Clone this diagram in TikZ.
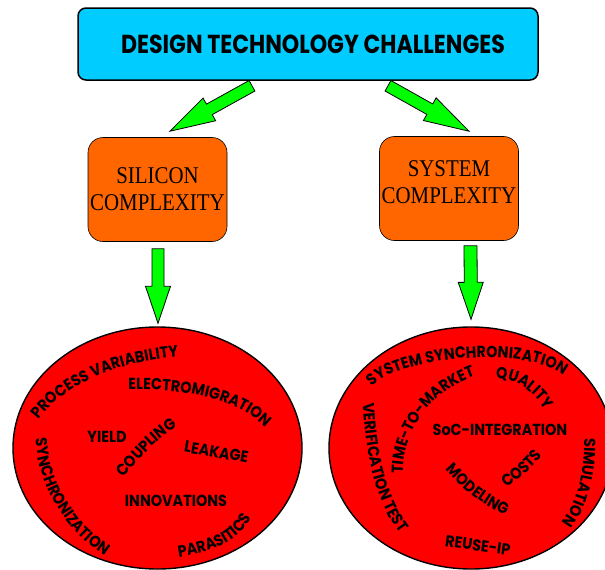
\documentclass[tikz,border=0pt]{standalone}
\usepackage{fontspec}
\usetikzlibrary{calc,shapes.geometric,decorations.text}
\newfontfamily\gothic{Poppins}[FakeStretch=0.9]
\newfontfamily\gothicn{Poppins}[FakeStretch=0.85]
\newfontfamily\serifface{Liberation Serif}[FakeStretch=0.87]
\definecolor{titlec}{HTML}{00CCFF}
\definecolor{areac}{HTML}{FF6600}
\definecolor{arrowc}{HTML}{00FF00}
\definecolor{topicc}{HTML}{FF0000}
\newcommand{\wordfont}{\gothic\bfseries\fontsize{16}{16}\selectfont}

% fat outlined arrow: tail, tip, head length, shaft half width, head half width
\newcommand{\fatarrow}[5]{%
  \coordinate (#1-hb) at ($(#2)!#3!(#1)$);
  \draw[fatarrow] ($(#1)!#4!90:(#2)$) -- ($(#1-hb)!#4!90:(#2)$) -- ($(#1-hb)!#5!90:(#2)$) -- (#2)
    -- ($(#1-hb)!#5!-90:(#2)$) -- ($(#1-hb)!#4!-90:(#2)$) -- ($(#1)!#4!-90:(#2)$) -- cycle;}
% word set along a curve, with some slack at both ends
\newcommand{\bendword}[5]{%
  \path[bend text={#1}] ($#2!-30pt!#3$) -- #2 .. controls #3 and #4 .. #5 -- ($#5!-30pt!#4$);}

\begin{document}
\begin{tikzpicture}[x=1pt,y=-1pt,
    titlebox/.style={draw,line width=1.5pt,fill=titlec,rounded corners=8pt,minimum width=460pt,minimum height=72pt,inner sep=0pt,font=\gothicn\bfseries\fontsize{26}{26}\selectfont},
    areabox/.style={draw,line width=0.6pt,fill=areac,rounded corners=15pt,minimum width=139pt,minimum height=104pt,inner sep=0pt,align=center,font=\serifface\fontsize{24}{27}\selectfont},
    topic/.style={ellipse,draw,line width=1.4pt,fill=topicc,minimum height=242pt,inner sep=0pt},
    fatarrow/.style={draw=black,fill=arrowc,line width=0.8pt,line join=miter},
    word/.style={inner sep=0pt,anchor=base,font=\wordfont},
    bend text/.style={decorate,decoration={text along path,text align=center,text={|\wordfont|#1}}},
  ]
  \useasboundingbox (0,0) rectangle (605,570);

  % boxes
  \node[titlebox] (dtc) at (308,44) {\hspace*{10pt}DESIGN TECHNOLOGY CHALLENGES};
  \node[areabox] (sil) at (157.5,189.5) {SILICON\\COMPLEXITY};
  \node[areabox,text depth=12pt] (sys) at (449,188.5) {SYSTEM\\COMPLEXITY};
  \node[topic,minimum width=289pt] (sile) at (157.5,448) {};
  \node[topic,minimum width=284pt] (syse) at (471,448) {};

  % arrows
  \coordinate (lt) at ($(dtc.south)+(-56,5)$);
  \coordinate (lp) at ($(sil.north)+(12.5,-6)$);
  \coordinate (rt) at ($(dtc.south)+(80,5)$);
  \coordinate (rp) at ($(sys.north)+(20,-5)$);
  \coordinate (st) at ($(sil.south)+(0.5,7)$);
  \coordinate (sp) at ($(sile.north)+(0.5,-3)$);
  \coordinate (yt) at ($(sys.south)+(21.5,5)$);
  \coordinate (yp) at ($(syse.north)+(0,-7)$);
  \fatarrow{lt}{lp}{45pt}{6pt}{13pt}
  \fatarrow{rt}{rp}{45pt}{6pt}{13pt}
  \fatarrow{st}{sp}{37pt}{6pt}{12.5pt}
  \fatarrow{yt}{yp}{37pt}{6.5pt}{12.5pt}

  % silicon topics
  \bendword{PROCESS VARIABILITY}{(39,419)}{(65,385)}{(115,362)}{(178,357)}
  \bendword{ELECTROMIGRATION}{(125,390)}{(190,388)}{(240,400)}{(268,430)}
  \node[word] (yield) at (107,442) {YIELD};
  \bendword{COUPLING}{(123,478)}{(140,458)}{(158,438)}{(178,426)}
  \node[word,rotate=-10] (leak) at (215.5,457.5) {LEAKAGE};
  \node[word] (innov) at (176,506) {INNOVATIONS};
  \bendword{SYNCHRONIZATION}{(35,435)}{(38,480)}{(60,528)}{(108,558)}
  \bendword{PARASITICS}{(180,557)}{(205,553)}{(235,545)}{(251,519)}

  % system topics
  \bendword{SYSTEM SYNCHRONIZATION}{(370,388)}{(400,355)}{(530,345)}{(565,377)}
  \bendword{TIME-TO-MARKET}{(403,470)}{(404,430)}{(432,392)}{(472,377)}
  \bendword{QUALITY}{(497,379)}{(515,378)}{(532,390)}{(545,409)}
  \node[word] (soc) at (500,435) {SoC-INTEGRATION};
  \bendword{VERIFICATION TEST}{(363,405)}{(365,450)}{(375,500)}{(399,532)}
  \bendword{MODELING}{(444,468)}{(462,488)}{(482,506)}{(508,516)}
  \bendword{COSTS}{(507,487)}{(520,478)}{(532,468)}{(542,456)}
  \bendword{SIMULATION}{(584,437)}{(585,475)}{(576,505)}{(561,524)}
  \node[word,rotate=-8] (reuse) at (477,551) {REUSE-IP};
\end{tikzpicture}
\end{document}
